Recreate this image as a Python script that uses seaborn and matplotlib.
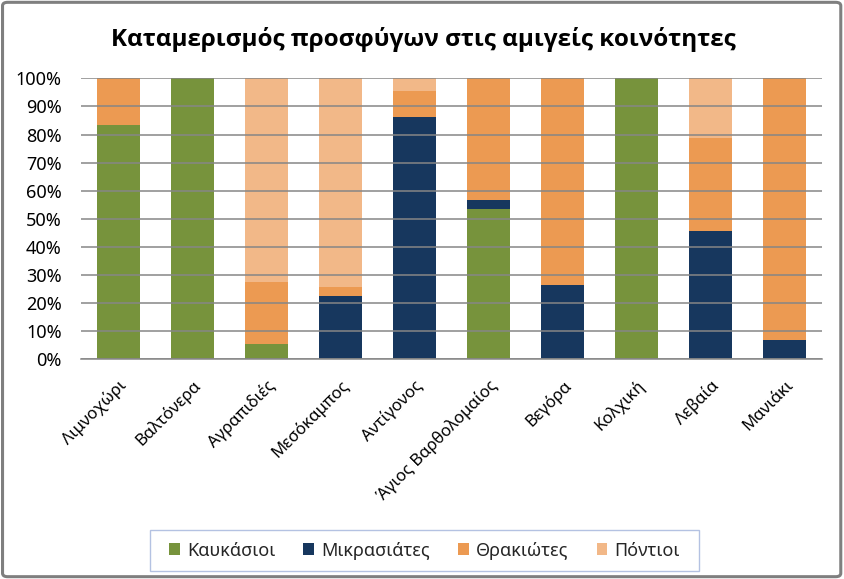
import numpy as np
import matplotlib
matplotlib.use("Agg")
import matplotlib.pyplot as plt
import seaborn as sns
import pandas as pd
from matplotlib.patches import Patch, FancyBboxPatch, Rectangle

sns.set_theme(style="white")
plt.rcParams['font.family'] = ['Noto Sans', 'DejaVu Sans']

villages = ['Λιμνοχώρι', 'Βαλτόνερα', 'Αγραπιδιές', 'Μεσόκαμπος', 'Αντίγονος',
            'Άγιος Βαρθολομαίος', 'Βεγόρα', 'Κολχική', 'Λεβαία', 'Μανιάκι']
groups = ['Καυκάσιοι', 'Μικρασιάτες', 'Θρακιώτες', 'Πόντιοι']
kafkasioi = [83.4, 100, 5.5, 0, 0, 53.5, 0, 100, 0, 0]
mikrasiates = [0, 0, 0, 22.5, 86.2, 3.2, 26.5, 0, 45.7, 6.9]
thrakiotes = [16.6, 0, 22.1, 3.2, 9.3, 43.3, 73.5, 0, 33.1, 93.1]
pontioi = [0, 0, 72.4, 74.3, 4.5, 0, 0, 0, 21.2, 0]
colors = ['#77933c', '#17375e', '#ec9a52', '#f2b888']

df = pd.DataFrame({'village': villages, 'Καυκάσιοι': kafkasioi, 'Μικρασιάτες': mikrasiates,
                   'Θρακιώτες': thrakiotes, 'Πόντιοι': pontioi})
cum = df[groups].cumsum(axis=1)

W, H = 845, 579
fig = plt.figure(figsize=(W/100, H/100), dpi=100)
ax = fig.add_axes([81/W, 1-359.3/H, (822-81)/W, (359.3-78.3)/H])

# draw cumulative totals from the top series down so each layer shows
for g, c in reversed(list(zip(groups, colors))):
    sns.barplot(x=df['village'], y=cum[g], color=c, width=0.58, saturation=1,
                linewidth=0, ax=ax, zorder=1)

ax.set_ylim(0, 100)
ax.set_xlim(-0.5, len(villages) - 0.5)
ax.set_yticks(np.arange(0, 101, 10))
ax.set_yticklabels([f'{v}%' for v in range(0, 101, 10)])
ax.set_axisbelow(False)
ax.yaxis.grid(True, color='#868686', linewidth=1.1, zorder=3)
ax.xaxis.grid(False)
for s in ['left', 'right', 'top']:
    ax.spines[s].set_visible(False)
ax.spines['bottom'].set_color('#868686')
ax.spines['bottom'].set_linewidth(1.1)
ax.spines['bottom'].set_zorder(4)
ax.set_xlabel('')
ax.set_ylabel('')
ax.tick_params(axis='y', length=0, pad=14, labelsize=13, labelcolor='black')
ax.tick_params(axis='x', length=0, pad=13, labelsize=12, labelcolor='black')
plt.setp(ax.get_xticklabels(), rotation=45, ha='right', va='top', rotation_mode='anchor')

fig.text(0.5006, 1-40/H, 'Καταμερισμός προσφύγων στις αμιγείς κοινότητες',
         ha='center', va='center', fontsize=17.5, fontweight='bold', color='black',
         family=['Open Sans', 'Noto Sans', 'DejaVu Sans'])

handles = [Patch(facecolor=c, edgecolor='none', label=g) for g, c in zip(groups, colors)]
fig.legend(handles=handles, loc='center', bbox_to_anchor=(0.5024, 1-550.5/H), ncol=4,
           fontsize=13, frameon=False, handlelength=0.6, handleheight=0.6,
           handletextpad=0.4, columnspacing=1.55)
fig.patches.append(Rectangle((150/W, 1-571/H), 549/W, 41/H, transform=fig.transFigure,
                             fill=False, edgecolor='#b4c2e2', linewidth=1))

fig.patches.append(FancyBboxPatch((0.003, 0.004), 0.992, 0.992, boxstyle='round,pad=0,rounding_size=0.006',
                                  transform=fig.transFigure, fill=False, edgecolor='#7f7f7f', linewidth=2.2))

fig.savefig('out.png', dpi=100, facecolor='white')
